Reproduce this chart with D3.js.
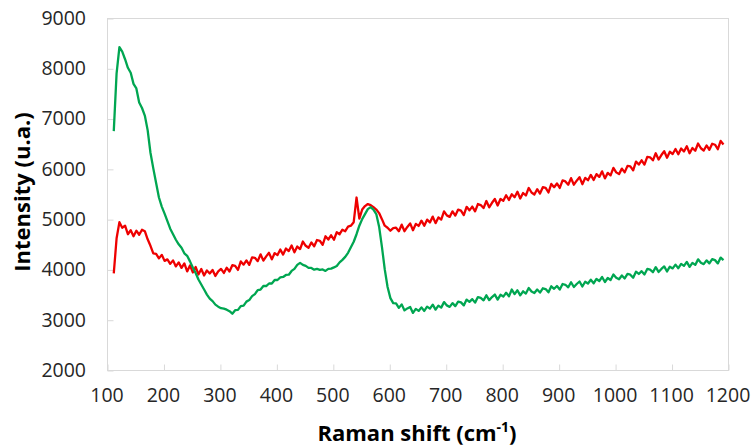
<!DOCTYPE html>
<html>
<head>
<meta charset="utf-8">
<script src="https://cdn.jsdelivr.net/npm/d3@7/dist/d3.min.js"></script>
<style>
  html, body { margin: 0; padding: 0; background: #fff; }
  svg { display: block; }
  .tick-label { font-family: "Open Sans", sans-serif; font-size: 19.5px; fill: #262626; }
  .axis-title { font-family: "Open Sans", sans-serif; font-weight: 700; font-size: 22px; fill: #000; }
</style>
</head>
<body>
<svg id="chart" width="755" height="448"></svg>
<script>
// Raman shift sampling grid (cm-1), 5 cm-1 step
const shifts = d3.range(112, 1193, 5);

// Intensity (u.a.) of the red spectrum
const redIntensity = [
  3920, 4620, 4940, 4830, 4870, 4700, 4780, 4660, 4770, 4690,
  4790, 4760, 4600, 4470, 4320, 4310, 4220, 4290, 4170, 4200,
  4110, 4180, 4060, 4140, 4030, 4120, 3960, 4080, 3940, 4050,
  3900, 4010, 3880, 3980, 3920, 3990, 3870, 3960, 4010, 3930,
  4035, 3960, 4085, 4070, 3990, 4160, 4095, 4180, 4090, 4240,
  4230, 4165, 4300, 4175, 4260, 4330, 4200, 4325, 4285, 4395,
  4295, 4415, 4365, 4475, 4340, 4455, 4405, 4555, 4470, 4430,
  4535, 4460, 4585, 4570, 4490, 4660, 4595, 4680, 4590, 4740,
  4700, 4790, 4760, 4850, 4870, 4940, 5430, 5010, 5190, 5260,
  5300, 5280, 5240, 5190, 5120, 5000, 4870, 4830, 4770, 4820,
  4830, 4760, 4890, 4760, 4845, 4915, 4780, 4905, 4865, 4970,
  4870, 4990, 4935, 5050, 4920, 5035, 4990, 5155, 5075, 5045,
  5155, 5070, 5190, 5170, 5080, 5245, 5175, 5250, 5155, 5300,
  5280, 5220, 5360, 5235, 5325, 5400, 5270, 5400, 5365, 5475,
  5380, 5495, 5435, 5545, 5410, 5520, 5470, 5620, 5530, 5490,
  5595, 5510, 5635, 5620, 5530, 5700, 5635, 5710, 5620, 5770,
  5750, 5685, 5815, 5685, 5765, 5835, 5695, 5820, 5775, 5880,
  5780, 5895, 5840, 5950, 5810, 5920, 5870, 6020, 5930, 5895,
  6005, 5930, 6060, 6050, 5970, 6145, 6085, 6170, 6085, 6240,
  6230, 6170, 6310, 6185, 6275, 6350, 6220, 6340, 6295, 6395,
  6290, 6405, 6345, 6450, 6310, 6415, 6360, 6505, 6410, 6365,
  6465, 6380, 6500, 6480, 6390, 6555, 6485
];

// Intensity (u.a.) of the green spectrum
const greenIntensity = [
  6750, 7900, 8420, 8330, 8180, 8010, 7910, 7690, 7600, 7320,
  7210, 7060, 6770, 6320, 6010, 5720, 5430, 5250, 5110, 4960,
  4810, 4700, 4590, 4500, 4430, 4320, 4270, 4160, 4040, 3930,
  3800, 3700, 3600, 3500, 3420, 3370, 3300, 3260, 3230, 3220,
  3200, 3170, 3120, 3190, 3195, 3270, 3280, 3360, 3390, 3470,
  3510, 3590, 3600, 3670, 3670, 3720, 3720, 3790, 3790, 3840,
  3850, 3890, 3895, 3970, 4010, 4090, 4130, 4090, 4070, 4030,
  4030, 3995, 4010, 3990, 4000, 3970, 4010, 4015, 4040, 4070,
  4140, 4190, 4250, 4330, 4440, 4550, 4700, 4870, 5000, 5100,
  5200, 5240, 5190, 5100, 4850, 4450, 4000, 3650, 3430, 3330,
  3325, 3235, 3305, 3185, 3225, 3255, 3135, 3215, 3175, 3245,
  3175, 3260, 3220, 3300, 3200, 3280, 3240, 3350, 3285, 3255,
  3330, 3270, 3360, 3345, 3285, 3400, 3355, 3410, 3340, 3450,
  3435, 3385, 3485, 3390, 3450, 3500, 3400, 3495, 3460, 3535,
  3465, 3600, 3510, 3585, 3485, 3565, 3520, 3630, 3560, 3530,
  3600, 3540, 3625, 3610, 3545, 3665, 3615, 3670, 3600, 3710,
  3695, 3645, 3745, 3650, 3710, 3760, 3660, 3755, 3720, 3795,
  3725, 3810, 3770, 3850, 3750, 3830, 3790, 3900, 3835, 3805,
  3880, 3820, 3910, 3895, 3835, 3955, 3910, 3965, 3900, 4010,
  3995, 3945, 4045, 3950, 4010, 4060, 3960, 4055, 4020, 4095,
  4025, 4110, 4070, 4150, 4050, 4130, 4090, 4200, 4135, 4105,
  4180, 4120, 4205, 4185, 4120, 4235, 4185
];

const xTicks = [100, 200, 300, 400, 500, 600, 700, 800, 900, 1000, 1100, 1200];
const yTicks = [2000, 3000, 4000, 5000, 6000, 7000, 8000, 9000];

const series = [
  { name: "red", color: "#ee0000", values: redIntensity },
  { name: "green", color: "#00a651", values: greenIntensity }
];

const svg = d3.select("#chart");
const plot = { left: 107, right: 728, top: 18, bottom: 370 };

const x = d3.scaleLinear().domain([100, 1200]).range([plot.left, plot.right]);
const y = d3.scaleLinear().domain([2000, 9000]).range([plot.bottom, plot.top]);

// Plot frame
svg.append("rect")
  .attr("x", plot.left + 0.5).attr("y", plot.top + 0.5)
  .attr("width", plot.right - plot.left).attr("height", plot.bottom - plot.top)
  .attr("fill", "none").attr("stroke", "#d9d9d9").attr("stroke-width", 1);

// X axis: inside ticks, labels below
const xAxis = svg.append("g")
  .attr("transform", `translate(0.5,${plot.bottom + 0.5})`)
  .call(d3.axisTop(x).tickValues(xTicks).tickSize(6).tickFormat(""));
xAxis.select(".domain").remove();
xAxis.selectAll(".tick line").attr("stroke", "#d9d9d9");

svg.append("g").selectAll("text").data(xTicks).join("text")
  .attr("class", "tick-label")
  .attr("x", d => x(d)).attr("y", 402)
  .attr("text-anchor", "middle")
  .text(d => d);

// Y axis: inside ticks, labels left
const yAxis = svg.append("g")
  .attr("transform", `translate(${plot.left + 0.5},0.5)`)
  .call(d3.axisRight(y).tickValues(yTicks).tickSize(6).tickFormat(""));
yAxis.select(".domain").remove();
yAxis.selectAll(".tick line").attr("stroke", "#d9d9d9");

svg.append("g").selectAll("text").data(yTicks).join("text")
  .attr("class", "tick-label")
  .attr("x", 86).attr("y", d => y(d))
  .attr("dy", "0.35em")
  .attr("text-anchor", "end")
  .text(d => d);

// Spectra
const line = d3.line()
  .x((d, i) => x(shifts[i]))
  .y(d => y(d));

svg.append("g").selectAll("path").data(series).join("path")
  .attr("d", s => line(s.values))
  .attr("fill", "none")
  .attr("stroke", s => s.color)
  .attr("stroke-width", 2.3)
  .attr("stroke-linejoin", "round");

// Axis titles
const xTitle = svg.append("text")
  .attr("class", "axis-title")
  .attr("x", 417).attr("y", 441)
  .attr("text-anchor", "middle");
xTitle.append("tspan").text("Raman shift (cm");
xTitle.append("tspan").attr("font-size", "14px").attr("dy", "-9").text("-1");
xTitle.append("tspan").attr("dy", "9").text(")");

svg.append("text")
  .attr("class", "axis-title")
  .attr("transform", "translate(30,192) rotate(-90)")
  .attr("text-anchor", "middle")
  .text("Intensity (u.a.)");
</script>
</body>
</html>
